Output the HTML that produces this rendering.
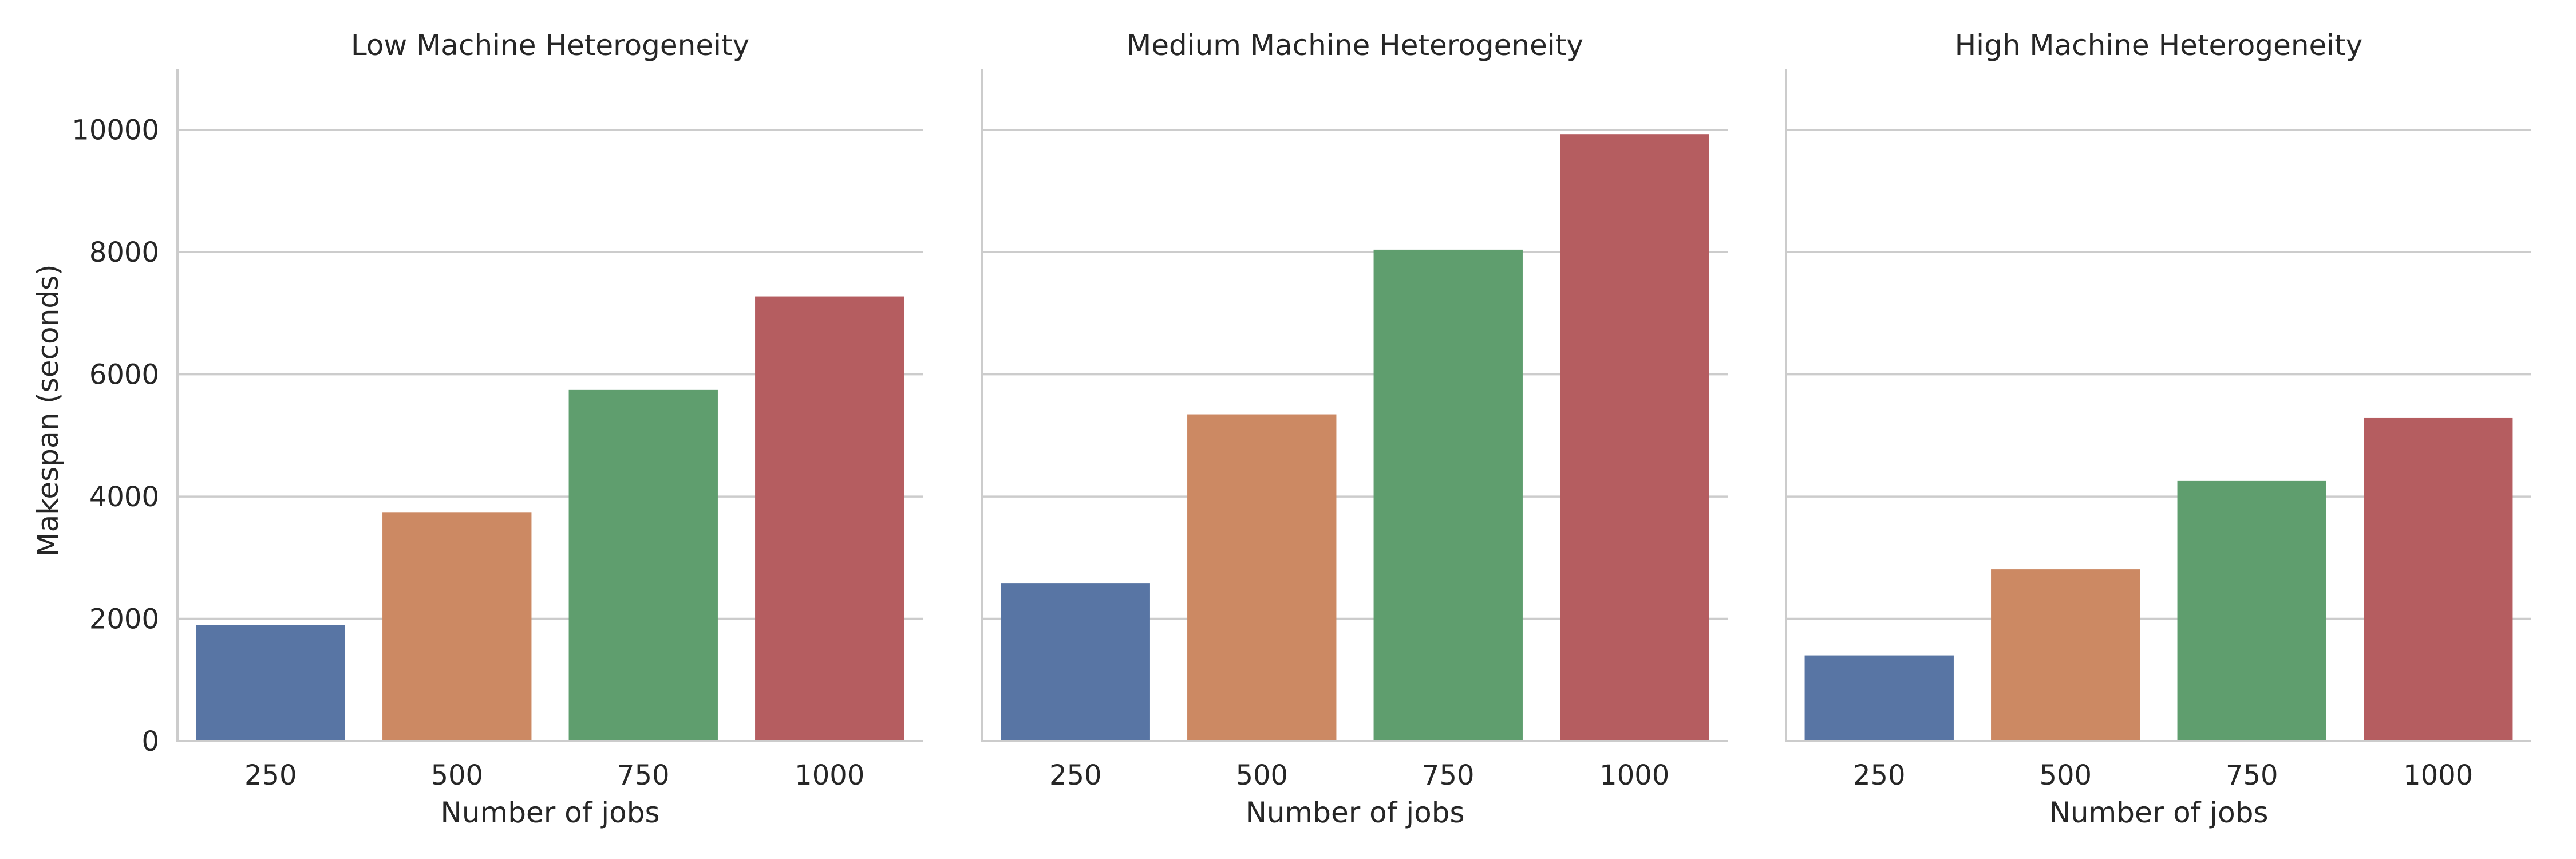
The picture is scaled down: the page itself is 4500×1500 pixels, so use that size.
<!DOCTYPE html>
<html><head><meta charset="utf-8"><style>
html,body{margin:0;padding:0;background:#fff;}
svg{display:block;font-family:"DejaVu Sans","Liberation Sans",sans-serif;}
</style></head><body>
<svg id="chart" width="4500" height="1500" viewBox="0 0 4500 1500" xmlns="http://www.w3.org/2000/svg"></svg>
<script>
const panelTitles = ["Low Machine Heterogeneity","Medium Machine Heterogeneity","High Machine Heterogeneity"];
const categories = ["250","500","750","1000"];
const lowValues = [1900, 3745, 5745, 7275];
const mediumValues = [2585, 5345, 8040, 9930];
const highValues = [1400, 2810, 4255, 5285];
const yTicks = [0, 2000, 4000, 6000, 8000, 10000];
const colors = ["#5875a4","#cc8963","#5f9e6e","#b55d60"];
const seriesList = [lowValues, mediumValues, highValues];

const NS = "http://www.w3.org/2000/svg";
const svg = document.getElementById('chart');
const panelLefts = [310, 1716, 3120];
const panelW = 1302, yTop = 120, yBottom = 1294, yMax = 11000;
function y(v){ return yBottom - v / yMax * (yBottom - yTop); }
function mk(tag, attrs, parent){
  const e = document.createElementNS(NS, tag);
  for (const k in attrs) e.setAttribute(k, attrs[k]);
  (parent || svg).appendChild(e);
  return e;
}
panelLefts.forEach((L, p) => {
  const g = mk('g', {});
  
  
  const band = panelW / categories.length;
  function x(i){ return L + band * (i + 0.5); }
  yTicks.forEach(t => {
    if (t === 0) return;
    const gl = mk('line', {x1: L, x2: L + panelW, y1: y(t), y2: y(t), stroke: '#cccccc', 'stroke-width': 3.5}, g);
    
    
  });
  seriesList[p].forEach((v, i) => {
    const bw = band * 0.8;
    const r = mk('rect', {x: x(i) - bw / 2, y: y(v), width: bw, height: yBottom - y(v), fill: colors[i]}, g);
    
    
    const tl = mk('text', {x: x(i), y: 1370, 'text-anchor': 'middle', 'font-size': 48, fill: '#262626'}, g);
    tl.textContent = categories[i];
    
    
  });
  const ax = mk('line', {x1: L, x2: L, y1: yTop, y2: yBottom, stroke: '#cccccc', 'stroke-width': 4}, g);
  
  
  const bx = mk('line', {x1: L - 2, x2: L + panelW, y1: yBottom, y2: yBottom, stroke: '#cccccc', 'stroke-width': 4}, g);
  
  
  const tt = mk('text', {x: L + panelW / 2, y: 96, 'text-anchor': 'middle', 'font-size': 50, fill: '#262626'}, g);
  tt.textContent = panelTitles[p];
  
  
  const xl = mk('text', {x: L + panelW / 2, y: 1436, 'text-anchor': 'middle', 'font-size': 50, fill: '#262626'}, g);
  xl.textContent = 'Number of jobs';
  
  
  if (p === 0) {
    yTicks.forEach(t => {
      const yl = mk('text', {x: 278, y: y(t) + 17, 'text-anchor': 'end', 'font-size': 48, fill: '#262626'}, g);
      yl.textContent = String(t);
      
      
    });
    const yt = mk('text', {x: 0, y: 0, 'text-anchor': 'middle', 'font-size': 50, fill: '#262626', transform: 'translate(101,' + ((yTop + yBottom) / 2 + 10) + ') rotate(-90)'}, g);
    yt.textContent = 'Makespan (seconds)';
    
    
  }
});
</script>
</body></html>
